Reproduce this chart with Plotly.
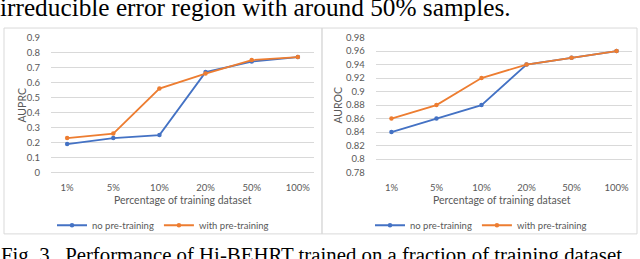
import plotly.graph_objects as go

categories = ["1%", "5%", "10%", "20%", "50%", "100%"]
auprc_no_pre = [0.19, 0.23, 0.25, 0.67, 0.74, 0.77]
auprc_with_pre = [0.23, 0.26, 0.56, 0.66, 0.75, 0.77]
auroc_no_pre = [0.84, 0.86, 0.88, 0.94, 0.95, 0.96]
auroc_with_pre = [0.86, 0.88, 0.92, 0.94, 0.95, 0.96]
series_names = ["no pre-training", "with pre-training"]
top_text = "irreducible error region with around 50% samples."
caption = "Fig. 3.  Performance of Hi-BEHRT trained on a fraction of training dataset."

W, H = 640, 259
BLUE = "#4472C4"
ORANGE = "#ED7D31"
GRID = "#D9D9D9"
TXT = "#595959"
FONT = "Lato"

def px(x):
    return x / W

def py(y):
    return 1 - y / H

fig = go.Figure()

def add_pair(no_vals, with_vals, xa, ya, legend):
    for name, vals, col in [(series_names[0], no_vals, BLUE), (series_names[1], with_vals, ORANGE)]:
        fig.add_trace(go.Scatter(
            x=categories, y=vals, name=name, mode="lines+markers",
            line=dict(color=col, width=1.8),
            marker=dict(color=col, size=4.5, symbol="circle"),
            xaxis=xa, yaxis=ya, legend=legend,
        ))

add_pair(auprc_no_pre, auprc_with_pre, "x", "y", "legend")
add_pair(auroc_no_pre, auroc_with_pre, "x2", "y2", "legend2")

ydom = [py(174), py(33)]
xcommon = dict(type="category", showgrid=False, showline=False, zeroline=False,
               ticks="outside", ticklen=6, tickcolor="rgba(0,0,0,0)",
               tickfont=dict(family=FONT, size=9.5, color=TXT))
ycommon = dict(showgrid=True, gridcolor=GRID, gridwidth=1, showline=False,
               ticks="outside", ticklen=8, tickcolor="rgba(0,0,0,0)",
               tickfont=dict(family=FONT, size=9.5, color=TXT),
               zeroline=True, zerolinecolor=GRID, zerolinewidth=1)

legcommon = dict(orientation="h", yanchor="middle", xanchor="center",
                 font=dict(family=FONT, size=9.5, color=TXT),
                 bgcolor="rgba(0,0,0,0)", itemwidth=30, tracegroupgap=0)

fig.update_layout(
    width=W, height=H,
    margin=dict(l=0, r=0, t=0, b=0),
    paper_bgcolor="white", plot_bgcolor="white",
    xaxis=dict(domain=[px(51), px(314)], anchor="y", **xcommon),
    yaxis=dict(domain=ydom, range=[0, 0.9], dtick=0.1, anchor="x", **ycommon),
    xaxis2=dict(domain=[px(375.6), px(632.4)], anchor="y2", **xcommon),
    yaxis2=dict(domain=ydom, range=[0.78, 0.98], dtick=0.02, anchor="x2", **ycommon),
    legend=dict(x=px(163), y=py(229), **legcommon),
    legend2=dict(x=px(481), y=py(229), **legcommon),
    showlegend=True,
    shapes=[
        dict(type="rect", xref="paper", yref="paper", x0=px(4), x1=px(322), y0=py(238), y1=py(23),
             line=dict(color=GRID, width=1), fillcolor="rgba(0,0,0,0)", layer="below"),
        dict(type="rect", xref="paper", yref="paper", x0=px(322), x1=px(637), y0=py(238), y1=py(23),
             line=dict(color=GRID, width=1), fillcolor="rgba(0,0,0,0)", layer="below"),
    ],
    annotations=[
        dict(text="AUPRC", xref="paper", yref="paper", x=px(22), y=py(104), textangle=-90,
             showarrow=False, font=dict(family=FONT, size=10.5, color=TXT), xanchor="center", yanchor="middle"),
        dict(text="AUROC", xref="paper", yref="paper", x=px(338), y=py(104), textangle=-90,
             showarrow=False, font=dict(family=FONT, size=10.5, color=TXT), xanchor="center", yanchor="middle"),
        dict(text="Percentage of training dataset", xref="paper", yref="paper", x=px(183), y=py(203),
             showarrow=False, font=dict(family=FONT, size=10.5, color=TXT), xanchor="center", yanchor="middle"),
        dict(text="Percentage of training dataset", xref="paper", yref="paper", x=px(502), y=py(203),
             showarrow=False, font=dict(family=FONT, size=10.5, color=TXT), xanchor="center", yanchor="middle"),
        dict(text=top_text, xref="paper", yref="paper", x=px(-2), y=py(1), showarrow=False,
             font=dict(family="Liberation Serif", size=25.3, color="black"), xanchor="left", yanchor="middle"),
        dict(text=caption, xref="paper", yref="paper", x=px(-1), y=py(260), showarrow=False,
             font=dict(family="Liberation Serif", size=20.8, color="black"), xanchor="left", yanchor="middle"),
    ],
)

fig.write_html("out.html", config={"displayModeBar": False},
               post_script="document.body.style.margin='0';document.body.style.overflow='hidden';")
